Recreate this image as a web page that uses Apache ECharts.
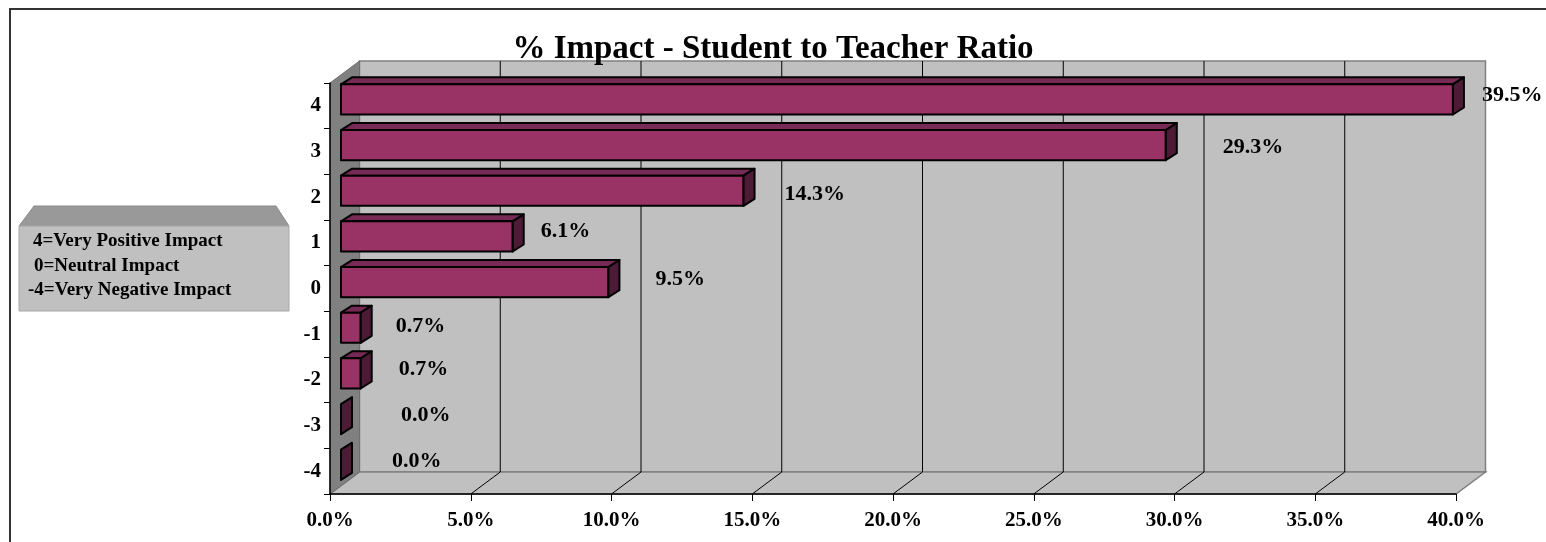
<!DOCTYPE html>
<html>
<head>
<meta charset="utf-8">
<script src="https://cdn.jsdelivr.net/npm/echarts@6/dist/echarts.min.js"></script>
<style>
  html, body { margin: 0; padding: 0; background: #ffffff; }
  #chart { width: 1546px; height: 542px; }
</style>
</head>
<body>
<div id="chart"></div>
<script>
// ---- data ----
const titleText = '% Impact - Student to Teacher Ratio';
const categories = ['4', '3', '2', '1', '0', '-1', '-2', '-3', '-4'];
const shares = [39.5, 29.3, 14.3, 6.1, 9.5, 0.7, 0.7, 0.0, 0.0];
const xTickLabels = ['0.0%', '5.0%', '10.0%', '15.0%', '20.0%', '25.0%', '30.0%', '35.0%', '40.0%'];
const keyLines = ['4=Very Positive Impact', '0=Neutral Impact', '-4=Very Negative Impact'];

// ---- layout / style ----
const FONT = "'Liberation Serif', 'Times New Roman', serif";
const WALL_DX = 29.5, WALL_DY = -22;    // depth of the chart box
const BAR_DX = 11, BAR_DY = -7;         // depth of each bar
const BAR_SHIFT_X = 11;                 // bars sit part-way into the box
const X_STEP = 5;
// per-label nudges (px) applied after the common offset from the bar end
const labelNudge = [[-14, -2], [14, 5], [-2, 6], [-15, -3], [4, 0], [-8, 1], [-5, -2], [17, -1], [8, -1]];
const FACE = '#993366', TOP = '#762a55', SIDE = '#4e1b36';

const chart = echarts.init(document.getElementById('chart'), null, { renderer: 'canvas' });

function renderBox(params, api) {
  const cs = params.coordSys;
  const x0 = cs.x, x1 = cs.x + cs.width;
  const yT = cs.y, yB = cs.y + cs.height;
  const kids = [];
  // back wall
  kids.push({ type: 'rect', shape: { x: x0 + WALL_DX, y: yT + WALL_DY, width: x1 - x0, height: yB - yT },
    style: { fill: '#c0c0c0', stroke: '#808080', lineWidth: 1.5 } });
  // floor
  kids.push({ type: 'polygon', shape: { points: [[x0, yB], [x0 + WALL_DX, yB + WALL_DY], [x1 + WALL_DX, yB + WALL_DY], [x1, yB]] },
    style: { fill: '#c0c0c0', stroke: '#808080', lineWidth: 1.5 } });
  // side wall
  kids.push({ type: 'polygon', shape: { points: [[x0, yT], [x0 + WALL_DX, yT + WALL_DY], [x0 + WALL_DX, yB + WALL_DY], [x0, yB]] },
    style: { fill: '#808080', stroke: '#6e6e6e', lineWidth: 1 } });
  // grid lines on the back wall and across the floor
  for (let i = 1; i < xTickLabels.length - 1; i++) {
    const x = api.coord([i * X_STEP, 0])[0];
    kids.push({ type: 'line', shape: { x1: x + WALL_DX, y1: yT + WALL_DY, x2: x + WALL_DX, y2: yB + WALL_DY },
      style: { stroke: '#000', lineWidth: 1 } });
    kids.push({ type: 'line', shape: { x1: x, y1: yB, x2: x + WALL_DX, y2: yB + WALL_DY },
      style: { stroke: '#000', lineWidth: 1 } });
  }
  return { type: 'group', children: kids };
}

function renderBar(params, api) {
  const idx = api.value(1);
  const val = api.value(0);
  const band = api.size([0, 1])[1];
  const base = api.coord([0, idx]);
  const end = api.coord([val, idx]);
  const h = band * 0.66;
  const cy = base[1] - band * 0.14;
  const xl = base[0] + BAR_SHIFT_X, xr = end[0] + BAR_SHIFT_X;
  const yt = cy - h / 2, yb = cy + h / 2;
  const edge = { stroke: '#000', lineWidth: 2, lineJoin: 'round' };
  const kids = [];
  if (xr - xl > 0.5) {
    kids.push({ type: 'polygon', shape: { points: [[xl, yt], [xl + BAR_DX, yt + BAR_DY], [xr + BAR_DX, yt + BAR_DY], [xr, yt]] },
      style: Object.assign({ fill: TOP }, edge) });
    kids.push({ type: 'rect', shape: { x: xl, y: yt, width: xr - xl, height: h },
      style: Object.assign({ fill: FACE }, edge) });
  }
  kids.push({ type: 'polygon', shape: { points: [[xr, yt], [xr + BAR_DX, yt + BAR_DY], [xr + BAR_DX, yb + BAR_DY], [xr, yb]] },
    style: Object.assign({ fill: SIDE }, edge) });
  const nd = labelNudge[params.dataIndex] || [0, 0];
  kids.push({ type: 'text', x: end[0] + 54 + nd[0], y: base[1] - 9 + nd[1],
    style: { text: val.toFixed(1) + '%', fill: '#000', font: 'bold 22px ' + FONT, align: 'left', verticalAlign: 'middle' } });
  return { type: 'group', children: kids };
}

const option = {
  animation: false,
  backgroundColor: '#ffffff',
  title: {
    text: titleText, left: 'center', top: 28,
    textStyle: { fontFamily: FONT, fontWeight: 'bold', fontSize: 33, color: '#000' }
  },
  grid: { left: 330, right: 90, top: 83, bottom: 48 },
  xAxis: {
    type: 'value', min: 0, max: 40, interval: X_STEP, z: 10,
    axisLine: { show: true, lineStyle: { color: '#000', width: 1.5 } },
    axisTick: { show: true, length: 7, lineStyle: { color: '#000' } },
    splitLine: { show: false },
    axisLabel: {
      margin: 16, color: '#000', fontFamily: FONT, fontWeight: 'bold', fontSize: 21,
      formatter: v => xTickLabels[Math.round(v / X_STEP)]
    }
  },
  yAxis: {
    type: 'category', data: categories, inverse: true, z: 10,
    axisLine: { show: true, lineStyle: { color: '#000', width: 1.5 } },
    axisTick: { show: true, length: 6, lineStyle: { color: '#000' } },
    axisLabel: { margin: 9, color: '#000', fontFamily: FONT, fontWeight: 'bold', fontSize: 21 }
  },
  series: [
    { type: 'custom', name: 'box', silent: true, z: 1, renderItem: renderBox, data: [[0, 0]], encode: { x: 0, y: 1 } },
    { type: 'custom', name: 'share', silent: true, z: 3, renderItem: renderBar,
      data: shares.map((v, i) => [v, i]), encode: { x: 0, y: 1 } }
  ],
  graphic: [
    // outer frame
    { type: 'polyline', shape: { points: [[10, 542], [10, 9], [1546, 9]] }, style: { stroke: '#333', lineWidth: 2, fill: null } },
    // key box
    { type: 'polygon', shape: { points: [[19, 226], [34, 206], [276, 206], [289, 226]] },
      style: { fill: '#999999', stroke: '#8a8a8a', lineWidth: 1 } },
    { type: 'rect', shape: { x: 19, y: 226, width: 270, height: 85 },
      style: { fill: '#c0c0c0', stroke: '#a8a8a8', lineWidth: 1 } },
    { type: 'text', x: 33, y: 241, style: { text: keyLines[0], font: 'bold 19px ' + FONT, fill: '#000', verticalAlign: 'middle' } },
    { type: 'text', x: 34, y: 266, style: { text: keyLines[1], font: 'bold 19px ' + FONT, fill: '#000', verticalAlign: 'middle' } },
    { type: 'text', x: 28, y: 290, style: { text: keyLines[2], font: 'bold 19px ' + FONT, fill: '#000', verticalAlign: 'middle' } }
  ]
};
chart.setOption(option);
</script>
</body>
</html>
